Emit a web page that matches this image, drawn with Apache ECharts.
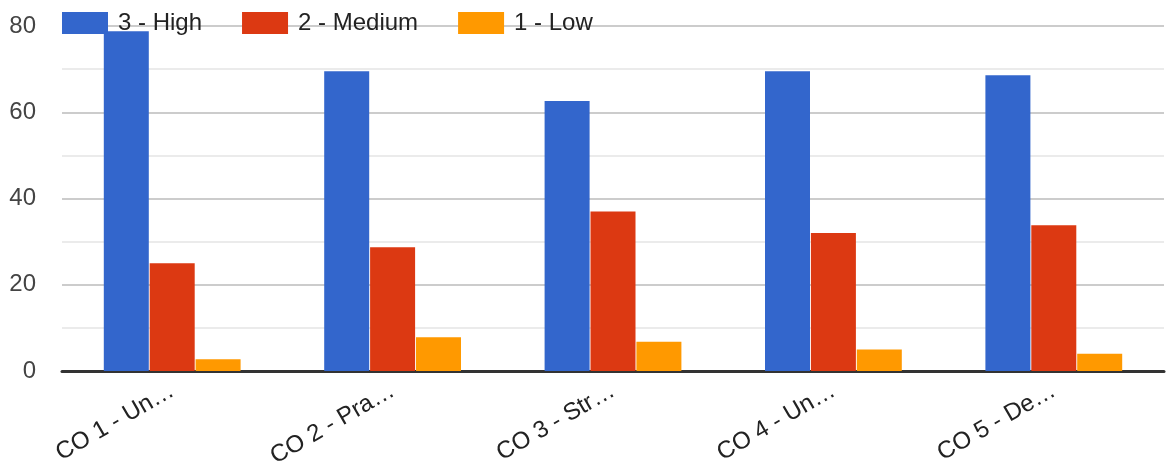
<!DOCTYPE html>
<html>
<head>
<meta charset="utf-8">
<script src="https://cdn.jsdelivr.net/npm/echarts@6/dist/echarts.min.js"></script>
<style>html,body{margin:0;padding:0;background:#fff}#c{width:1166px;height:465px}</style>
</head>
<body>
<div id="c"></div>
<script>
const categories = ['CO 1 - Un…', 'CO 2 - Pra…', 'CO 3 - Str…', 'CO 4 - Un…', 'CO 5 - De…'];
const seriesNames = ['3 - High', '2 - Medium', '1 - Low'];
const high = [78.8, 69.5, 62.6, 69.5, 68.6];
const medium = [25, 28.7, 37, 32, 33.8];
const low = [2.7, 7.8, 6.8, 5, 4];
const yTicks = [0, 20, 40, 60, 80];
const colors = ['#3366cc', '#dc3912', '#ff9900'];

const chart = echarts.init(document.getElementById('c'));
const font = '"Liberation Sans", Arial, sans-serif';
const mk = (name, data, i) => ({
  name, type: 'bar', data, barWidth: 45, barGap: '2%',
  itemStyle: { color: colors[i] }
});
chart.setOption({
  animation: false,
  textStyle: { fontFamily: font },
  legend: {
    left: 57, top: 6, itemWidth: 46, itemHeight: 22, itemGap: 40,
    icon: 'rect',
    textStyle: { fontSize: 24, color: '#222', fontFamily: font, padding: [0, 0, 0, 5] },
    data: seriesNames
  },
  grid: { left: 62, right: 2, top: 26, bottom: 94, containLabel: false, outerBoundsMode: 'none' },
  xAxis: {
    type: 'category', data: categories,
    axisLine: { lineStyle: { color: '#333', width: 3 } },
    axisTick: { show: false },
    axisLabel: { rotate: 30, fontSize: 24, color: '#222', fontFamily: font, margin: 18, interval: 0 }
  },
  yAxis: {
    type: 'value', min: yTicks[0], max: yTicks[yTicks.length - 1], interval: 20,
    axisLine: { show: false }, axisTick: { show: false },
    axisLabel: { fontSize: 24, color: '#444', fontFamily: font, margin: 26 },
    splitLine: { lineStyle: { color: '#cccccc', width: 2 } },
    minorTick: { show: false, splitNumber: 2 },
    minorSplitLine: { show: true, lineStyle: { color: '#ebebeb', width: 2 } }
  },
  series: [mk(seriesNames[0], high, 0), mk(seriesNames[1], medium, 1), mk(seriesNames[2], low, 2)]
});
</script>
</body>
</html>
